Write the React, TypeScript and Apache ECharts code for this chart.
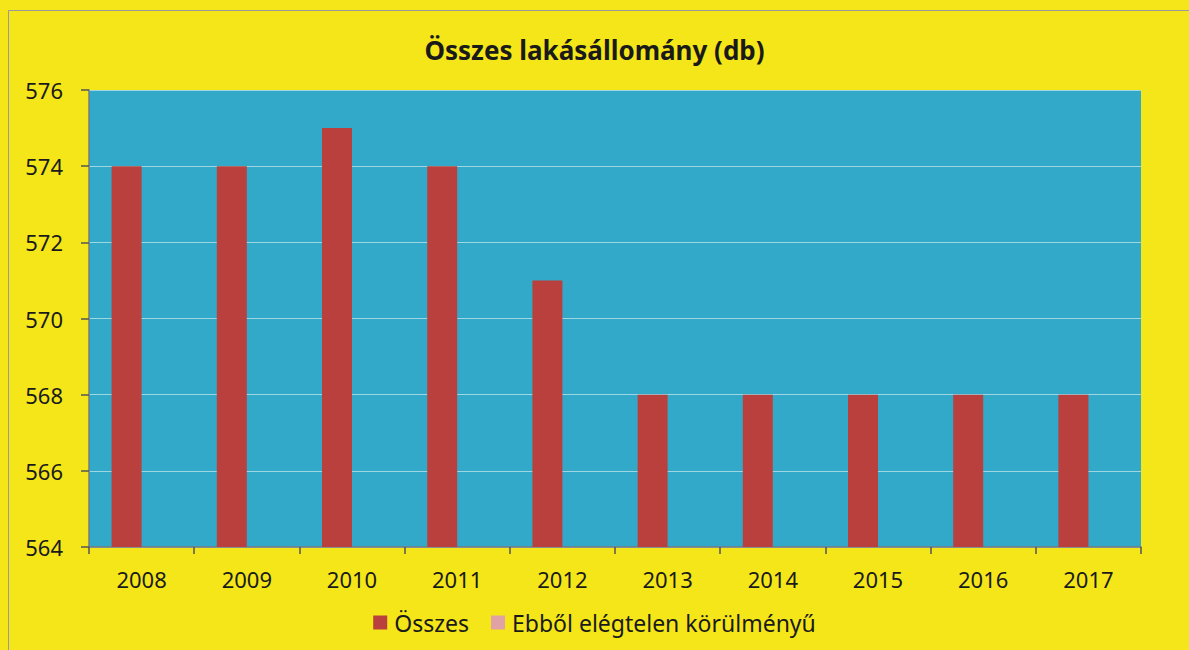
import React, { useEffect, useRef } from "react";
import * as echarts from "echarts";

const years = ["2008", "2009", "2010", "2011", "2012", "2013", "2014", "2015", "2016", "2017"];
const osszes = [574, 574, 575, 574, 571, 568, 568, 568, 568, 568];
const elegtelen: (number | null)[] = [null, null, null, null, null, null, null, null, null, null];
const yMin = 564;
const yMax = 576;
const yStep = 2;

const FONT = "'Noto Sans', 'Open Sans', sans-serif";

export default function App() {
  const ref = useRef<HTMLDivElement>(null);
  useEffect(() => {
    if (!ref.current) return;
    const chart = echarts.init(ref.current, undefined, { renderer: "svg" });
    chart.setOption({
      animation: false,
      backgroundColor: "#f4e619",
      title: {
        text: "Összes lakásállomány (db)",
        left: "center",
        top: 32,
        textStyle: { fontFamily: FONT, fontSize: 26, fontWeight: "bold", color: "#1a1a1a" },
      },
      graphic: [
        {
          type: "rect",
          shape: { x: 8.5, y: 10.5, width: 1200, height: 700 },
          style: { fill: "none", stroke: "#9a9a9a", lineWidth: 1 },
          silent: true,
        },
      ],
      legend: {
        bottom: 11,
        left: "center",
        itemWidth: 14,
        itemHeight: 14,
        itemGap: 22,
        icon: "rect",
        textStyle: { fontFamily: FONT, fontSize: 23, color: "#1a1a1a", padding: [0, 0, 0, 2] },
        data: ["Összes", "Ebből elégtelen körülményű"],
      },
      grid: {
        left: 89,
        right: 48,
        top: 90,
        bottom: 103,
        show: true,
        backgroundColor: "#33a9c9",
        borderWidth: 0,
      },
      xAxis: {
        type: "category",
        data: years,
        axisLine: { show: true, lineStyle: { color: "#7a7a7a", width: 1.5 } },
        axisTick: { show: true, alignWithLabel: false, length: 7, lineStyle: { color: "#555", width: 1.5 } },
        axisLabel: { fontFamily: FONT, fontSize: 22, color: "#1a1a1a", margin: 21 },
      },
      yAxis: {
        type: "value",
        min: yMin,
        max: yMax,
        interval: yStep,
        axisLine: { show: true, lineStyle: { color: "#7a7a7a", width: 1.5 } },
        axisTick: { show: true, inside: false, length: 8, lineStyle: { color: "#555", width: 1.5 } },
        axisLabel: { fontFamily: FONT, fontSize: 22, color: "#1a1a1a", margin: 26 },
        splitLine: { show: true, lineStyle: { color: "#9fd6e4", width: 1 } },
      },
      series: [
        {
          name: "Összes",
          type: "bar",
          data: osszes,
          barWidth: 30,
          barGap: "0%",
          itemStyle: { color: "#b9403c" },
        },
        {
          name: "Ebből elégtelen körülményű",
          type: "bar",
          data: elegtelen,
          barWidth: 30,
          barGap: "0%",
          itemStyle: { color: "#e0a2a4" },
        },
      ],
    });
    return () => chart.dispose();
  }, []);
  return (
    <div
      ref={ref}
      style={{ position: "absolute", left: 0, top: 0, width: 1189, height: 650 }}
    />
  );
}
